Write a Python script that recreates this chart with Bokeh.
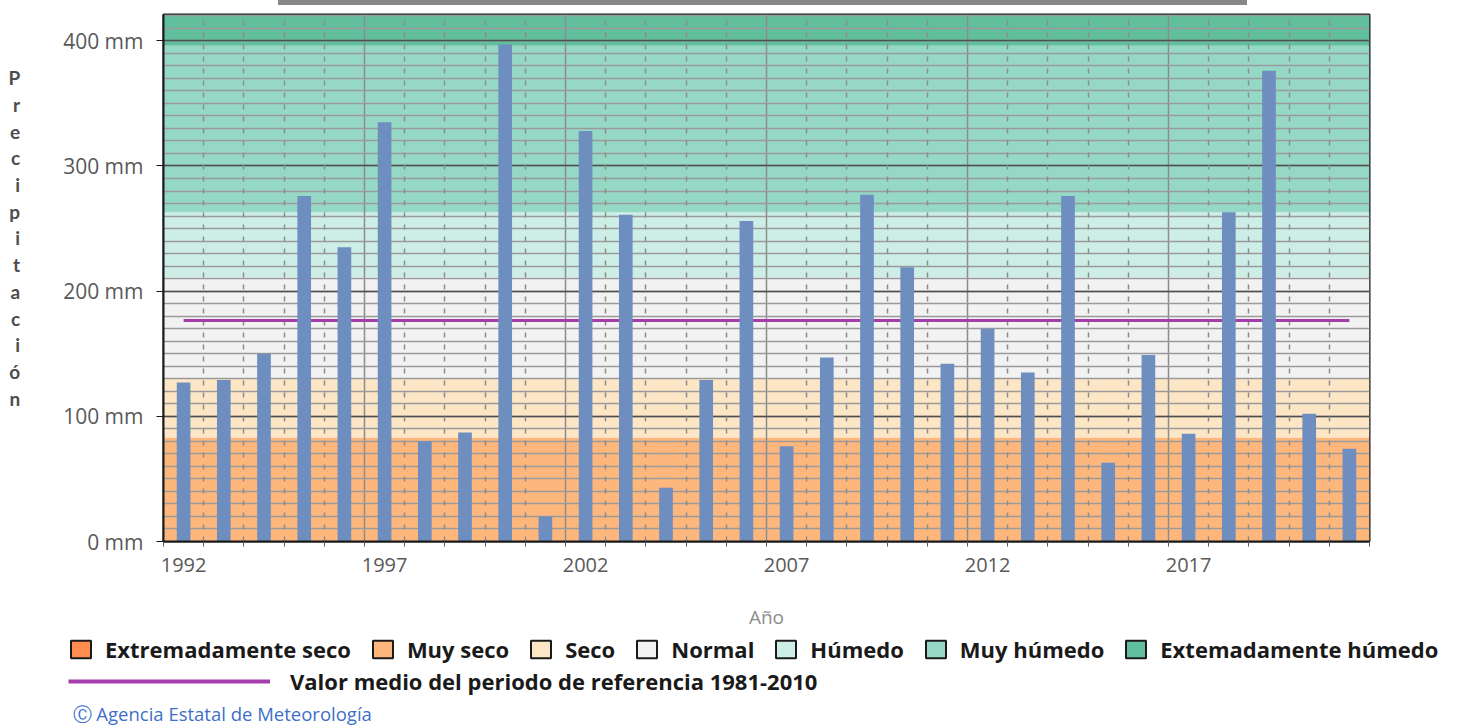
from bokeh.plotting import figure
from bokeh.models import (Range1d, FixedTicker, PrintfTickFormatter, Grid, Legend,
                          LegendItem, Label, ColumnDataSource, Div)
from bokeh.embed import file_html
from bokeh.resources import INLINE

# ---------------- data ----------------
years = list(range(1992, 2022))
precip = [127, 129, 150, 276, 235, 335, 80, 87, 397, 20,
          328, 261, 43, 129, 256, 76, 147, 277, 219, 142,
          170, 135, 276, 63, 149, 86, 263, 376, 102, 74]
mean_ref = 176.5
band_names = ["Extremadamente seco", "Muy seco", "Seco", "Normal",
              "Húmedo", "Muy húmedo", "Extemadamente húmedo"]
band_lower = [0, 0, 83, 130, 211, 263, 396]
band_upper = [0, 83, 130, 211, 263, 396, 421]
band_colors = ["#FF8C50", "#FDB77D", "#FDE6C6", "#F2F2F2",
               "#CDEEE6", "#95D8C6", "#62BF9E"]
y_ticks = [0, 100, 200, 300, 400]
x_label_years = [1992, 1997, 2002, 2007, 2012, 2017]
mean_label = "Valor medio del periodo de referencia 1981-2010"
credit = "Ⓒ  Agencia Estatal de Meteorología"

FONT = "Open Sans"
GREY_TXT = "#595959"
MEAN_COLOR = "#A53DAC"

x0, x1 = years[0] - 0.5, years[-1] + 0.5
y_max = band_upper[-1]

top_bar = Div(text="", width=969, height=5, margin=(0, 0, 0, 278),
              styles={"background-color": "#878787"})

p = figure(width=1450, height=630, output_backend="svg", toolbar_location=None,
           x_range=Range1d(x0, x1), y_range=Range1d(0, y_max),
           min_border_left=163, min_border_right=81, min_border_top=9,
           min_border_bottom=94)
p.background_fill_color = "white"
p.outline_line_color = "#1a1a1a"
p.outline_line_width = 2

# background category bands
bsrc = ColumnDataSource(dict(left=[x0] * len(band_lower), right=[x1] * len(band_lower),
                             bottom=band_lower, top=band_upper, color=band_colors))
p.quad(left="left", right="right", bottom="bottom", top="top", fill_color="color",
       line_color=None, level="image", source=bsrc)

# horizontal grid
p.ygrid.ticker = FixedTicker(ticks=y_ticks, minor_ticks=list(range(0, 430, 10)))
p.ygrid.grid_line_color = "#4d4d4d"
p.ygrid.grid_line_width = 1.5
p.ygrid.minor_grid_line_color = "#9a9a9a"
p.ygrid.minor_grid_line_width = 1.5

# vertical grid: solid every 5 categories, dashed otherwise
bounds = [y - 0.5 for y in years] + [years[-1] + 0.5]
solid_b = [b for i, b in enumerate(bounds) if i % 5 == 0 and 0 < i < len(years)]
dash_b = [b for i, b in enumerate(bounds) if i % 5 != 0 and i < len(years)]
p.xgrid.ticker = FixedTicker(ticks=solid_b)
p.xgrid.grid_line_color = "#8c8c8c"
p.xgrid.grid_line_width = 1.5
g2 = Grid(dimension=0, ticker=FixedTicker(ticks=dash_b), grid_line_color="#8c8c8c",
          grid_line_width=1.5, grid_line_dash="5 7")
p.add_layout(g2)

# mean line (behind bars)
p.line(x=[years[0], years[-1]], y=[mean_ref, mean_ref],
       line_color=MEAN_COLOR, line_width=3)

# bars
p.vbar(x=years, top=precip, width=0.34, fill_color="#6E8EBF", line_color=None)

# axes
xa = p.xaxis[0]
xa.ticker = FixedTicker(ticks=x_label_years, minor_ticks=bounds)
xa.major_tick_out = 0
xa.major_tick_in = 0
xa.minor_tick_out = 5
xa.minor_tick_in = 0
xa.minor_tick_line_color = "#595959"
xa.axis_line_color = "#1a1a1a"
xa.axis_line_width = 2
xa.major_label_text_font = FONT
xa.major_label_text_font_size = "20px"
xa.major_label_text_color = GREY_TXT
xa.major_label_standoff = 11
xa.axis_label = "Año"
xa.axis_label_text_font = FONT
xa.axis_label_text_font_style = "normal"
xa.axis_label_text_font_size = "19px"
xa.axis_label_text_color = "#8c8c8c"
xa.axis_label_standoff = 29

ya = p.yaxis[0]
ya.ticker = FixedTicker(ticks=y_ticks)
ya.formatter = PrintfTickFormatter(format="%d mm")
ya.major_tick_out = 7
ya.major_tick_in = 0
ya.minor_tick_out = 0
ya.minor_tick_in = 0
ya.major_tick_line_color = "#1a1a1a"
ya.axis_line_color = "#1a1a1a"
ya.axis_line_width = 2
ya.major_label_text_font = FONT
ya.major_label_text_font_size = "21px"
ya.major_label_text_color = GREY_TXT
ya.major_label_standoff = 13
ya.axis_label = "\n".join(list("Precipitación") + [" ", " ", " "])
ya.axis_label_orientation = "horizontal"
ya.axis_label_text_font = "Lato"
ya.axis_label_text_font_style = "bold"
ya.axis_label_text_font_size = "19px"
ya.axis_label_text_color = "#4d4d4d"
ya.axis_label_text_line_height = 1.16
ya.axis_label_standoff = 40

# ---------------- legend strip ----------------
QW, QH = 1456, 90
q = figure(width=QW, height=QH, output_backend="svg", toolbar_location=None,
           x_range=Range1d(0, QW), y_range=Range1d(0, QH),
           x_axis_type=None, y_axis_type=None, min_border=0,
           min_border_left=0, min_border_right=0, min_border_top=0,
           min_border_bottom=0)
q.outline_line_color = None
q.grid.visible = False

# hidden renderers (same data as the chart) providing the legend swatches
r_leg = q.quad(left="left", right="right", bottom="bottom", top="top",
               fill_color="color", line_color="#1a1a1a", line_width=2,
               source=bsrc, visible=False)
r_mean = q.line(x=[years[0], years[-1]], y=[mean_ref, mean_ref],
                line_color=MEAN_COLOR, line_width=4, visible=False)

items = [LegendItem(label=name, renderers=[r_leg], index=i)
         for i, name in enumerate(band_names)]
leg1 = Legend(items=items, orientation="horizontal", location=(68, 61),
              glyph_width=25, glyph_height=22, label_standoff=12, spacing=19,
              padding=0, margin=0, border_line_color=None,
              background_fill_alpha=0, label_text_font=FONT,
              label_text_font_style="bold", label_text_font_size="22px",
              label_text_color="#1a1a1a", label_height=22)
q.add_layout(leg1)

leg2 = Legend(items=[LegendItem(label=mean_label, renderers=[r_mean])],
              orientation="horizontal", location=(68, 29),
              glyph_width=202, glyph_height=22, label_standoff=20,
              padding=0, margin=0, border_line_color=None,
              background_fill_alpha=0, label_text_font=FONT,
              label_text_font_style="bold", label_text_font_size="22px",
              label_text_color="#1a1a1a", label_height=22)
q.add_layout(leg2)

q.add_layout(Label(x=72, y=12, text=credit, text_font=FONT,
                   text_font_size="18.5px", text_color="#3E6FC8",
                   text_baseline="middle"))

open("out.html", "w").write(file_html([top_bar, p, q], INLINE))
